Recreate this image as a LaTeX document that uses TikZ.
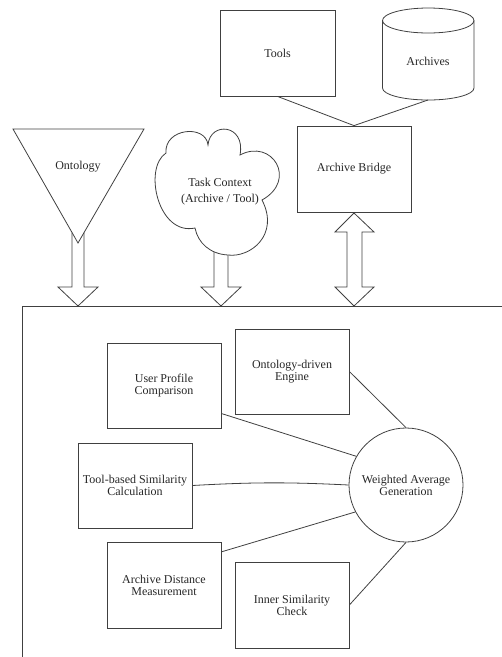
\documentclass[tikz,border=0pt]{standalone}
\usepackage{fontspec}
\setmainfont{Liberation Serif}
\begin{document}
\begin{tikzpicture}[x=1pt,y=-1pt, line width=0.8pt, line join=miter, color=black!75,
  every node/.style={font=\fontsize{12}{12}\selectfont, text=black!85},
  box/.style={draw, minimum width=114pt, minimum height=85pt, align=center, inner sep=0pt},
  bigarrow/.style={draw, fill=white},
  conn/.style={draw}]
\useasboundingbox (0,0) rectangle (502,657);

% top: tools, archives, bridge
\node[box, minimum width=115pt, minimum height=86pt] (tools) at (277.5,53) {Tools};
\draw[fill=white] (428.25,20.5) ellipse [x radius=45.75pt, y radius=12.5pt];
\draw (382.5,20.5) -- (382.5,88) arc[start angle=180,end angle=360,x radius=45.75pt,y radius=12pt] -- (474,20.5);
\node (archives) at (428,61) {Archives};
\coordinate (archbot) at (428,100);
\node[box, minimum width=114pt, minimum height=86pt] (bridge) at (354,169) {Archive Bridge};
\draw[conn] (tools.south) -- (bridge.north);
\draw[conn] (archbot) -- (bridge.north);

% ontology triangle and arrow
\draw (72,232.5) -- (72,287) -- (58,287) -- (78,306) -- (98,287) -- (84,287) -- (84,232.6);
\draw (13,129) -- (144,129) -- (78,243) -- cycle;
\node (onto) at (78,167) {Ontology};

% cloud and arrow
\draw[bigarrow] (214,235) -- (214,287) -- (201,287) -- (221,306) -- (241,287) -- (228,287) -- (228,235) -- cycle;
\draw[fill=white] (166,153) .. controls (164,128) and (206,124) .. (208,145)
  .. controls (210,121) and (246,124) .. (240,155)
  .. controls (272,138) and (298,180) .. (262,200)
  .. controls (280,235) and (250,258) .. (228,255)
  .. controls (210,254) and (198,243) .. (195,228)
  .. controls (158,236) and (143,168) .. (166,153) -- cycle;
\node[align=center, font=\fontsize{12}{16}\selectfont] (task) at (220,191.5) {Task Context\\(Archive / Tool)};

% double arrow
\draw[bigarrow] (354,213) -- (374,232) -- (362,232) -- (362,287) -- (374,287) -- (354,306) -- (335,287) -- (347,287) -- (347,232) -- (335,232) -- cycle;

% big container
\draw (22,657) -- (22,306) -- (502,306);

% inner boxes
\node[box] (up) at (164,385.5) {User Profile\\Comparison};
\node[box] (eng) at (292,371.5) {Ontology-driven\\Engine};
\node[box] (tb) at (135,485.5) {Tool-based Similarity\\Calculation};
\node[box, minimum height=86pt] (ad) at (164,585) {Archive Distance\\Measurement};
\node[box, minimum height=86pt] (is) at (292,605) {Inner Similarity\\Check};
\node[circle, draw, minimum size=114pt, inner sep=0pt, align=center] (wag) at (406,485) {Weighted Average\\Generation};

\draw[conn] (eng.east) -- (wag.north);
\draw[conn] (up.-26.6) -- (wag.150);
\draw[conn] (tb.east) to[bend left=3] (wag.west);
\draw[conn] (ad.30.8) -- (wag.208);
\draw[conn] (is.east) -- (wag.south);
\end{tikzpicture}
\end{document}
